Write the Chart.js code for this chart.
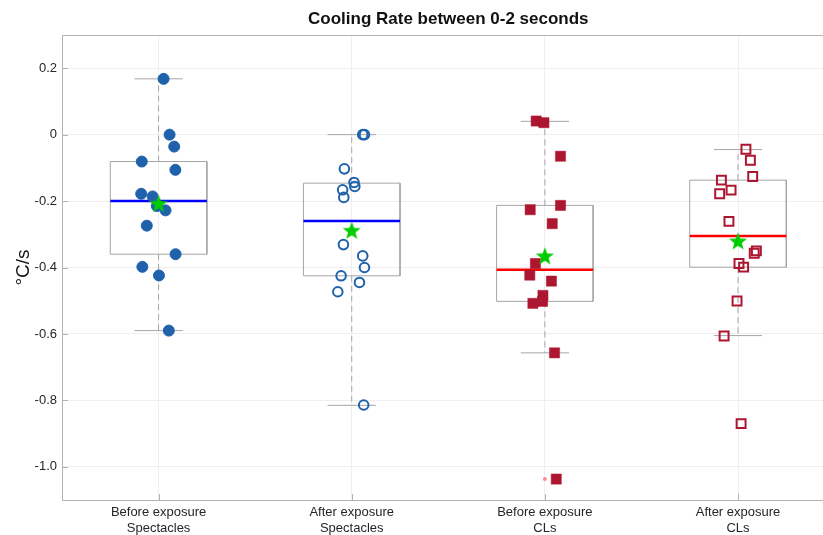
<!DOCTYPE html>
<html>
<head>
<meta charset="utf-8">
<script src="https://cdn.jsdelivr.net/npm/chart.js@4.4.1/dist/chart.umd.min.js"></script>
<style>
  html, body { margin: 0; padding: 0; background: #fff; overflow: hidden; }
  #wrap { width: 823px; height: 535px; }
</style>
</head>
<body>
<div id="wrap"><canvas id="chart" width="823" height="535"></canvas></div>
<script>
const TITLE = "Cooling Rate between 0-2 seconds";
const CATEGORIES = [["Before exposure", "Spectacles"], ["After exposure", "Spectacles"], ["Before exposure", "CLs"], ["After exposure", "CLs"]];
const Y_TICKS = [0.2, 0, -0.2, -0.4, -0.6, -0.8, -1.0];

// individual measurements (°C/s) and their horizontal jitter around each category
const BEFORE_SPEC = [0.168, 0.0, -0.036, -0.081, -0.106, -0.178, -0.186, -0.215, -0.228, -0.274, -0.36, -0.398, -0.424, -0.59];
const BEFORE_SPEC_JIT = [0.026, 0.057, 0.081, -0.087, 0.087, -0.09, -0.031, -0.009, 0.036, -0.061, 0.088, -0.084, 0.002, 0.053];
const AFTER_SPEC = [0.0, 0.0, -0.103, -0.144, -0.156, -0.166, -0.189, -0.331, -0.365, -0.4, -0.425, -0.445, -0.473, -0.814];
const AFTER_SPEC_JIT = [0.057, 0.066, -0.038, 0.012, 0.016, -0.047, -0.041, -0.043, 0.057, 0.066, -0.055, 0.04, -0.072, 0.062];
const BEFORE_CL = [0.041, 0.036, -0.065, -0.213, -0.226, -0.268, -0.388, -0.423, -0.441, -0.484, -0.502, -0.508, -0.657, -1.037];
const BEFORE_CL_JIT = [-0.045, -0.005, 0.081, 0.081, -0.076, 0.038, -0.049, -0.078, 0.034, -0.01, -0.012, -0.062, 0.05, 0.059];
const AFTER_CL = [-0.044, -0.077, -0.126, -0.137, -0.167, -0.178, -0.261, -0.35, -0.357, -0.388, -0.399, -0.501, -0.606, -0.87];
const AFTER_CL_JIT = [0.041, 0.064, 0.076, -0.086, -0.036, -0.095, -0.047, 0.095, 0.084, 0.005, 0.029, -0.005, -0.072, 0.016];

// box plot statistics per category
const Q1 = [-0.36, -0.425, -0.502, -0.399];
const Q3 = [-0.081, -0.146, -0.213, -0.137];
const MEDIAN = [-0.2, -0.26, -0.407, -0.305];
const MEAN = [-0.208, -0.289, -0.366, -0.321];
const WHISKER_LO = [-0.59, -0.815, -0.657, -0.605];
const WHISKER_HI = [0.168, 0.0, 0.04, -0.045];
const OUTLIERS = [[], [], [-1.037], []];

const BLUE = "#1f62ab";
const RED = "#ad1630";
const BOX_GREY = "#a6a6a6";
const MEDIAN_COLORS = ["#0000ff", "#0000ff", "#ff0000", "#ff0000"];
const BOX_HALF = 0.25;
const CAP_HALF = 0.125;
const X_MAX = 4.44; // the original axes run past the right edge of the picture
const FONT = "'Liberation Sans', Arial, Helvetica, sans-serif";

function starImage() {
  const c = document.createElement("canvas");
  c.width = 20; c.height = 20;
  const g = c.getContext("2d");
  g.beginPath();
  for (let i = 0; i < 10; i++) {
    const r = i % 2 === 0 ? 9.5 : 3.9;
    const a = -Math.PI / 2 + i * Math.PI / 5;
    g.lineTo(10 + r * Math.cos(a), 10.5 + r * Math.sin(a));
  }
  g.closePath();
  g.fillStyle = "#00cc00";
  g.fill();
  return c;
}

const pts = (vals, jit, cat) => vals.map((v, i) => ({ x: cat + jit[i], y: v }));

function lineSet(data, color, width, dash, order) {
  return {
    type: "line", data, borderColor: color, borderWidth: width, borderDash: dash || [],
    pointRadius: 0, fill: false, tension: 0, order, clip: false,
  };
}

const datasets = [];
CATEGORIES.forEach((_, i) => {
  const c = i + 1;
  datasets.push(lineSet([
    { x: c - BOX_HALF, y: Q3[i] }, { x: c + BOX_HALF, y: Q3[i] },
    { x: c + BOX_HALF, y: Q1[i] }, { x: c - BOX_HALF, y: Q1[i] }, { x: c - BOX_HALF, y: Q3[i] },
  ], BOX_GREY, 1, null, 5));
  datasets.push(lineSet([{ x: c, y: Q3[i] }, { x: c, y: WHISKER_HI[i] }], BOX_GREY, 1, [6, 4], 5));
  datasets.push(lineSet([{ x: c, y: Q1[i] }, { x: c, y: WHISKER_LO[i] }], BOX_GREY, 1, [6, 4], 5));
  datasets.push(lineSet([{ x: c - CAP_HALF, y: WHISKER_HI[i] }, { x: c + CAP_HALF, y: WHISKER_HI[i] }], BOX_GREY, 1, null, 5));
  datasets.push(lineSet([{ x: c - CAP_HALF, y: WHISKER_LO[i] }, { x: c + CAP_HALF, y: WHISKER_LO[i] }], BOX_GREY, 1, null, 5));
  datasets.push(lineSet([{ x: c - BOX_HALF, y: MEDIAN[i] }, { x: c + BOX_HALF, y: MEDIAN[i] }], MEDIAN_COLORS[i], 2.5, null, 3));
  if (OUTLIERS[i].length) {
    datasets.push({
      data: OUTLIERS[i].map(v => ({ x: c, y: v })), pointRadius: 2, pointBackgroundColor: "#ff8a8a",
      pointBorderWidth: 0, showLine: false, order: 4,
    });
  }
});

datasets.push({ data: pts(BEFORE_SPEC, BEFORE_SPEC_JIT, 1), pointStyle: "circle", pointRadius: 5.5,
  pointBackgroundColor: BLUE, pointBorderColor: BLUE, pointBorderWidth: 1, order: 2 });
datasets.push({ data: pts(AFTER_SPEC, AFTER_SPEC_JIT, 2), pointStyle: "circle", pointRadius: 4.8,
  pointBackgroundColor: "rgba(255,255,255,0)", pointBorderColor: BLUE, pointBorderWidth: 2, order: 2 });
datasets.push({ data: pts(BEFORE_CL, BEFORE_CL_JIT, 3), pointStyle: "rect", pointRadius: 7.2,
  pointBackgroundColor: RED, pointBorderColor: RED, pointBorderWidth: 0.5, order: 2 });
datasets.push({ data: pts(AFTER_CL, AFTER_CL_JIT, 4), pointStyle: "rect", pointRadius: 6.3,
  pointBackgroundColor: "rgba(255,255,255,0)", pointBorderColor: RED, pointBorderWidth: 2, order: 2 });
datasets.push({ data: MEAN.map((v, i) => ({ x: i + 1, y: v })), pointStyle: starImage(), order: 0 });

// top frame line, inward tick marks and the title centred over the whole axes
const frame = {
  id: "frame",
  afterDraw(chart) {
    const { ctx, chartArea: a, scales: { x, y } } = chart;
    ctx.save();
    ctx.strokeStyle = "#b3b3b3";
    ctx.lineWidth = 1;
    ctx.beginPath();
    ctx.moveTo(a.left, a.top + 0.5); ctx.lineTo(a.right, a.top + 0.5);
    y.ticks.forEach(t => {
      const py = Math.round(y.getPixelForValue(t.value)) + 0.5;
      ctx.moveTo(a.left, py); ctx.lineTo(a.left + 6, py);
    });
    x.ticks.forEach(t => {
      const px = Math.round(x.getPixelForValue(t.value)) + 0.5;
      ctx.moveTo(px, a.bottom); ctx.lineTo(px, a.bottom - 6);
    });
    ctx.stroke();
    ctx.fillStyle = "#111";
    ctx.font = `bold 17px ${FONT}`;
    ctx.textAlign = "center";
    ctx.textBaseline = "middle";
    ctx.fillText(TITLE, x.getPixelForValue(2.5), 19);
    ctx.restore();
  },
};

new Chart(document.getElementById("chart"), {
  type: "scatter",
  data: { datasets },
  plugins: [frame],
  options: {
    responsive: false,
    animation: false,
    layout: { autoPadding: false, padding: { left: 0, right: 0, top: 35, bottom: 0 } },
    plugins: { legend: { display: false }, tooltip: { enabled: false } },
    scales: {
      x: {
        type: "linear", min: 0.5, max: X_MAX,
        afterBuildTicks: s => { s.ticks = CATEGORIES.map((_, i) => ({ value: i + 1 })); },
        afterFit: s => { s.height = 35; s.paddingLeft = 0; s.paddingRight = 0; },
        ticks: { callback: v => CATEGORIES[v - 1], color: "#262626", font: { family: FONT, size: 13 }, padding: 5, maxRotation: 0 },
        grid: { color: "#efefef", drawTicks: false },
        border: { color: "#b3b3b3" },
      },
      y: {
        min: -1.1, max: 0.3,
        afterBuildTicks: s => { s.ticks = Y_TICKS.map(v => ({ value: v })); },
        afterFit: s => { s.width = 62; s.paddingTop = 0; s.paddingBottom = 0; },
        ticks: { callback: v => (v === 0 ? "0" : v.toFixed(1)), color: "#262626", font: { family: FONT, size: 13 }, padding: 5 },
        grid: { color: "#efefef", drawTicks: false },
        border: { color: "#b3b3b3" },
        title: { display: true, text: "°C/s", color: "#111", font: { family: FONT, size: 19 }, padding: { top: 12, bottom: 0 } },
      },
    },
  },
});
</script>
</body>
</html>
